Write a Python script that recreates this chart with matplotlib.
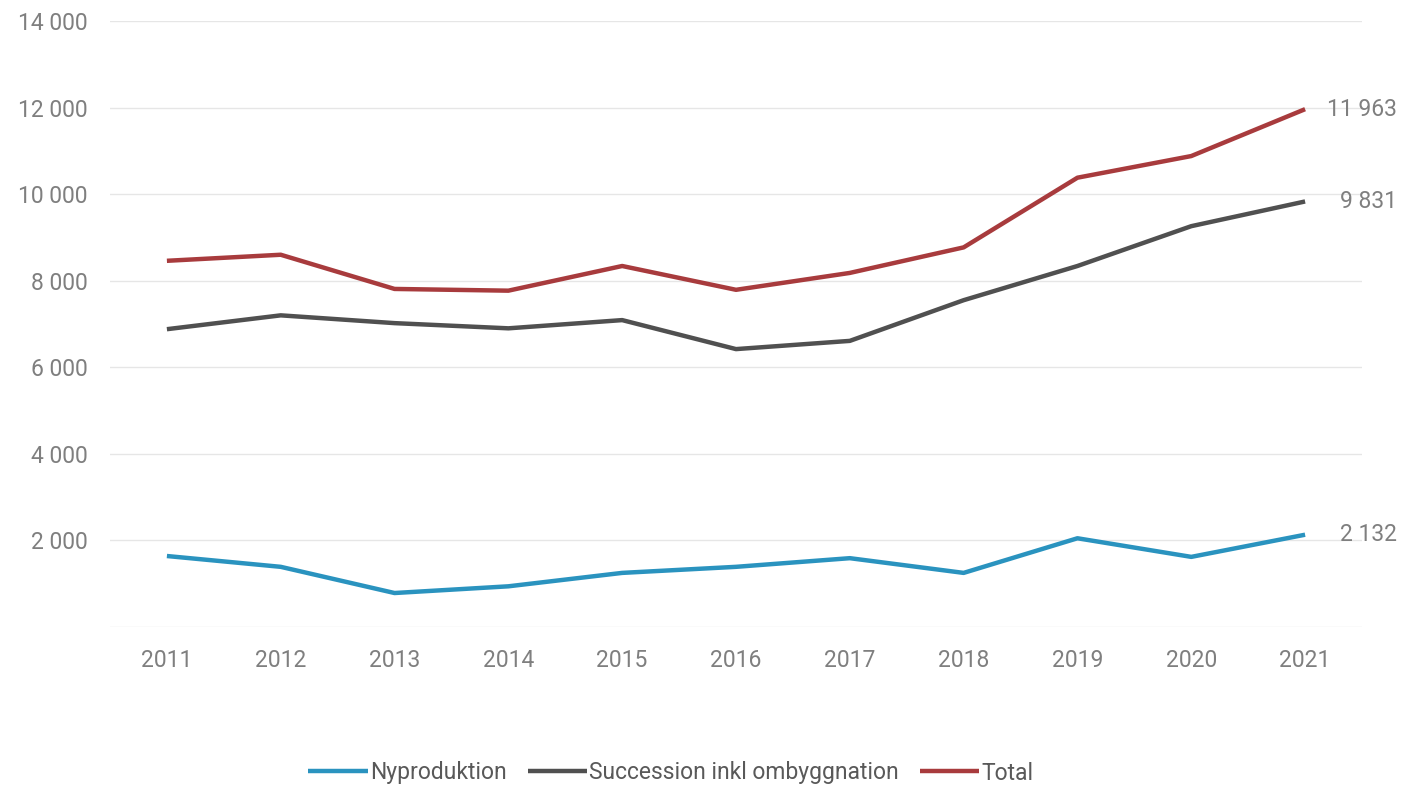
import matplotlib
matplotlib.use("Agg")
import matplotlib.pyplot as plt
from matplotlib.ticker import FuncFormatter

years = [2011, 2012, 2013, 2014, 2015, 2016, 2017, 2018, 2019, 2020, 2021]
nyproduktion = [1640, 1390, 785, 940, 1250, 1390, 1590, 1250, 2050, 1620, 2132]
succession = [6880, 7200, 7020, 6900, 7090, 6420, 6610, 7550, 8340, 9260, 9831]
total = [8460, 8600, 7810, 7770, 8340, 7790, 8180, 8770, 10380, 10880, 11963]

series_names = ["Nyproduktion", "Succession inkl ombyggnation", "Total"]
colors = ["#2a93bf", "#505050", "#a83b3d"]

plt.rcParams["font.family"] = ["Roboto", "DejaVu Sans"]
fs = 16.5

fig = plt.figure(figsize=(14.02, 7.86), dpi=100)
ax = fig.add_axes([110 / 1402, 1 - 627 / 786, 1252 / 1402, 606 / 786])

x = list(range(len(years)))
for vals, name, c in zip([nyproduktion, succession, total], series_names, colors):
    ax.plot(x, vals, color=c, lw=3.2, label=name, solid_capstyle="butt")
    ax.annotate(f"{vals[-1]:,}".replace(",", " "), (x[-1], vals[-1]),
                xytext=(66, 0), textcoords="offset points", ha="right", va="center",
                fontsize=fs, color="#7f7f7f")

ax.set_xlim(-0.5, len(years) - 0.5)
ax.set_ylim(0, 14000)
ax.set_yticks(range(0, 14001, 2000))
ax.yaxis.set_major_formatter(FuncFormatter(lambda v, p: "" if v == 0 else f"{int(v):,}".replace(",", " ")))
ax.set_xticks(x)
ax.set_xticklabels([str(y) for y in years])
ax.tick_params(length=0, labelsize=fs, labelcolor="#7f7f7f")
ax.tick_params(axis="y", pad=16)
ax.tick_params(axis="x", pad=16)
ax.grid(axis="y", color="#e6e6e6", lw=1)
ax.set_axisbelow(True)
for s in ax.spines.values():
    s.set_visible(False)

handles, labels = ax.get_legend_handles_labels()
fig.legend(handles, labels, loc="center", bbox_to_anchor=(671 / 1402, 1 - 773 / 786),
           ncol=3, frameon=False, fontsize=fs, handlelength=2.6, handletextpad=0.1,
           columnspacing=0.9, labelcolor="#595959", borderaxespad=0, borderpad=0)

fig.savefig("out.png", dpi=100)
